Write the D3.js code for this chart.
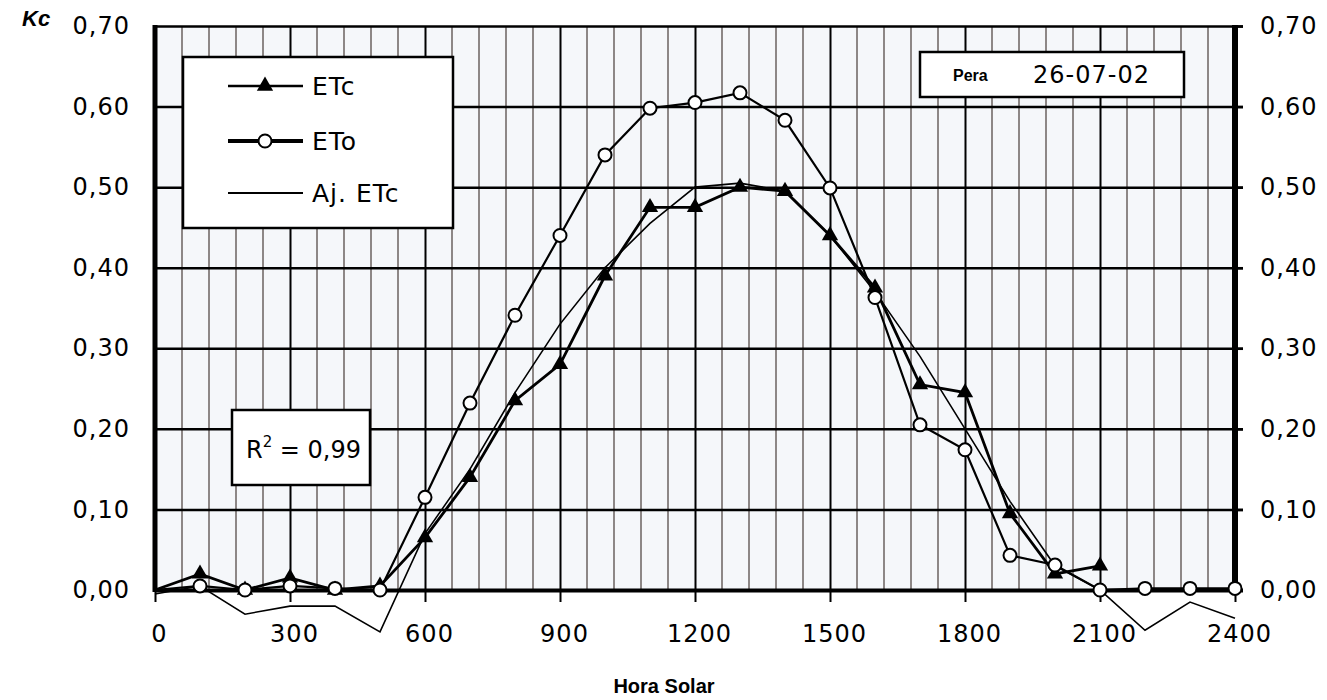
<!DOCTYPE html>
<html>
<head>
<meta charset="utf-8">
<script src="https://cdn.jsdelivr.net/npm/d3@7/dist/d3.min.js"></script>
<style>
  body { margin: 0; background: #fff; }
  svg { display: block; }
  .tick text { font-family: 'DejaVu Sans', sans-serif; font-size: 24px; letter-spacing: 1px; fill: #000; }
</style>
</head>
<body>
<svg id="chart" width="1327" height="700"></svg>
<script>
// hourly points (Hora Solar)
const hours = [0, 100, 200, 300, 400, 500, 600, 700, 800, 900, 1000, 1100, 1200,
  1300, 1400, 1500, 1600, 1700, 1800, 1900, 2000, 2100, 2200, 2300, 2400]

// ETc (triangles), measured up to 2100
const etcHours = [0, 100, 200, 300, 400, 500, 600, 700, 800, 900, 1000, 1100, 1200,
  1300, 1400, 1500, 1600, 1700, 1800, 1900, 2000, 2100]
const etc = [0.00, 0.02, 0.00, 0.015, 0.00, 0.005, 0.065, 0.14, 0.235, 0.28, 0.39, 0.475, 0.475,
  0.50, 0.495, 0.44, 0.375, 0.255, 0.245, 0.095, 0.02, 0.03]

// ETo (open circles)
const eto = [0.00, 0.005, 0.00, 0.005, 0.002, 0.00, 0.115, 0.232, 0.341, 0.44, 0.54, 0.598, 0.605,
  0.617, 0.583, 0.499, 0.363, 0.205, 0.174, 0.043, 0.031, 0.00, 0.002, 0.002, 0.002]

// Aj. ETc (thin line)
const ajEtc = [-0.005, 0.005, -0.03, -0.02, -0.02, -0.052, 0.07, 0.15, 0.245, 0.33, 0.40, 0.455, 0.50,
  0.505, 0.495, 0.44, 0.37, 0.29, 0.20, 0.11, 0.03, 0.00, -0.05, -0.015, -0.035]

const xTicks = [0, 300, 600, 900, 1200, 1500, 1800, 2100, 2400]
const xTickLabels = ['0', '300', '600', '900', '1200', '1500', '1800', '2100', '2400']
const yTicks = [0, 0.1, 0.2, 0.3, 0.4, 0.5, 0.6, 0.7]
const yTickLabels = ['0,00', '0,10', '0,20', '0,30', '0,40', '0,50', '0,60', '0,70']
const legendLabels = ['ETc', 'ETo', 'Aj. ETc']

const svg = d3.select('#chart')
const plotLeft = 155, plotRight = 1235, plotTop = 26, plotBottom = 590

const x = d3.scaleLinear().domain([0, 2400]).range([plotLeft, plotRight])
const y = d3.scaleLinear().domain([0, 0.7]).range([plotBottom, plotTop])

// plot background
svg.append('rect')
  .attr('x', plotLeft).attr('y', plotTop)
  .attr('width', plotRight - plotLeft).attr('height', plotBottom - plotTop)
  .attr('fill', '#f5f7fa')

// minor vertical grid every 60
svg.append('g')
  .selectAll('line')
  .data(d3.range(60, 2400, 60).filter(v => v % 300 !== 0))
  .join('line')
  .attr('x1', d => x(d)).attr('x2', d => x(d))
  .attr('y1', plotTop).attr('y2', plotBottom)
  .attr('stroke', '#8d8786')
  .attr('stroke-width', 2)

// major vertical grid + bottom axis
svg.append('g')
  .attr('transform', `translate(0,${plotBottom})`)
  .call(d3.axisBottom(x)
    .tickValues(xTicks)
    .tickSize(12)
    .tickPadding(23)
    .tickFormat((d, i) => xTickLabels[i]))
  .call(g => g.select('.domain').remove())
  .call(g => g.selectAll('.tick line')
    .attr('y1', plotTop - plotBottom)
    .attr('stroke', '#000')
    .attr('stroke-width', 2))
  .call(g => g.selectAll('.tick text').attr('dx', 4))

// horizontal grid + left axis
svg.append('g')
  .attr('transform', `translate(${plotLeft},0)`)
  .call(d3.axisLeft(y)
    .tickValues(yTicks)
    .tickSize(8)
    .tickPadding(17)
    .tickFormat((d, i) => yTickLabels[i]))
  .call(g => g.select('.domain').remove())
  .call(g => g.selectAll('.tick line')
    .attr('x2', plotRight - plotLeft + 8)
    .attr('stroke', '#000')
    .attr('stroke-width', d => d === 0 ? 4 : 2.5))

// right axis labels
svg.append('g')
  .attr('transform', `translate(${plotRight},0)`)
  .call(d3.axisRight(y)
    .tickValues(yTicks)
    .tickSize(8)
    .tickPadding(17)
    .tickFormat((d, i) => yTickLabels[i]))
  .call(g => g.select('.domain').remove())
  .call(g => g.selectAll('.tick line').attr('stroke', '#000').attr('stroke-width', 2.5))

// thick frame sides
svg.append('line')
  .attr('x1', plotLeft).attr('x2', plotLeft).attr('y1', plotTop - 1).attr('y2', plotBottom + 2)
  .attr('stroke', '#000').attr('stroke-width', 5)
svg.append('line')
  .attr('x1', plotRight).attr('x2', plotRight).attr('y1', plotTop - 1).attr('y2', plotBottom + 2)
  .attr('stroke', '#000').attr('stroke-width', 6)

// series
const line = d3.line()
  .x(d => x(d[0]))
  .y(d => y(d[1]))

svg.append('path')
  .datum(hours.map((h, i) => [h, ajEtc[i]]))
  .attr('d', line)
  .attr('fill', 'none')
  .attr('stroke', '#000')
  .attr('stroke-width', 1.6)

svg.append('path')
  .datum(hours.map((h, i) => [h, eto[i]]))
  .attr('d', line)
  .attr('fill', 'none')
  .attr('stroke', '#000')
  .attr('stroke-width', 2.2)

svg.append('path')
  .datum(etcHours.map((h, i) => [h, etc[i]]))
  .attr('d', line)
  .attr('fill', 'none')
  .attr('stroke', '#000')
  .attr('stroke-width', 2.8)

const tri = d3.symbol(d3.symbolTriangle).size(115)

// markers (the one at hour 0 sits under the axis)
svg.append('g')
  .selectAll('path')
  .data(etcHours.map((h, i) => [h, etc[i]]).filter(d => d[0] > 0))
  .join('path')
  .attr('d', tri)
  .attr('transform', d => `translate(${x(d[0])},${y(d[1])})`)
  .attr('fill', '#000')

svg.append('g')
  .selectAll('circle')
  .data(hours.map((h, i) => [h, eto[i]]).filter(d => d[0] > 0))
  .join('circle')
  .attr('cx', d => x(d[0]))
  .attr('cy', d => y(d[1]))
  .attr('r', 6.5)
  .attr('fill', '#fff')
  .attr('stroke', '#000')
  .attr('stroke-width', 2)

// legend
const legend = svg.append('g')
legend.append('rect')
  .attr('x', 183).attr('y', 57).attr('width', 270).attr('height', 171)
  .attr('fill', '#fff').attr('stroke', '#000').attr('stroke-width', 2.5)

const legendY = [86, 141, 193]
const legendW = [2.5, 4, 2]
legendLabels.forEach((label, i) => {
  legend.append('line')
    .attr('x1', 228).attr('x2', 303)
    .attr('y1', legendY[i]).attr('y2', legendY[i])
    .attr('stroke', '#000').attr('stroke-width', legendW[i])
  if (i === 0) {
    legend.append('path').attr('d', tri)
      .attr('transform', `translate(265,${legendY[i]})`).attr('fill', '#000')
  }
  if (i === 1) {
    legend.append('circle').attr('cx', 265).attr('cy', legendY[i]).attr('r', 6.5)
      .attr('fill', '#fff').attr('stroke', '#000').attr('stroke-width', 2)
  }
  legend.append('text')
    .attr('x', 312).attr('y', legendY[i] + 9)
    .attr('font-family', 'DejaVu Sans, sans-serif')
    .attr('font-size', 25)
    .attr('letter-spacing', 1)
    .text(label)
})

// Pera box
svg.append('rect')
  .attr('x', 920).attr('y', 52).attr('width', 264).attr('height', 45)
  .attr('fill', '#fff').attr('stroke', '#000').attr('stroke-width', 2.5)
svg.append('text')
  .attr('x', 953).attr('y', 81)
  .attr('font-family', 'Liberation Sans, Arial, sans-serif')
  .attr('font-weight', 'bold')
  .attr('font-size', 16)
  .text('Pera')
svg.append('text')
  .attr('x', 1033).attr('y', 83)
  .attr('font-family', 'DejaVu Sans, sans-serif')
  .attr('font-size', 24)
  .attr('letter-spacing', 1)
  .text('26-07-02')

// R² box
svg.append('rect')
  .attr('x', 232).attr('y', 410).attr('width', 138).attr('height', 75)
  .attr('fill', '#fff').attr('stroke', '#000').attr('stroke-width', 2.5)
const r2 = svg.append('text')
  .attr('x', 246).attr('y', 458)
  .attr('font-family', 'DejaVu Sans, sans-serif')
  .attr('font-size', 24)
r2.append('tspan').text('R')
r2.append('tspan').attr('dy', -11).attr('font-size', 15).text('2')
r2.append('tspan').attr('dy', 11).text(' = 0,99')

// axis titles
svg.append('text')
  .attr('x', 22).attr('y', 26)
  .attr('font-family', 'Liberation Sans, Arial, sans-serif')
  .attr('font-weight', 'bold')
  .attr('font-style', 'italic')
  .attr('font-size', 22)
  .text('Kc')

svg.append('text')
  .attr('x', 664).attr('y', 693)
  .attr('text-anchor', 'middle')
  .attr('font-family', 'Liberation Sans, Arial, sans-serif')
  .attr('font-weight', 'bold')
  .attr('font-size', 20)
  .text('Hora Solar')
</script>
</body>
</html>
